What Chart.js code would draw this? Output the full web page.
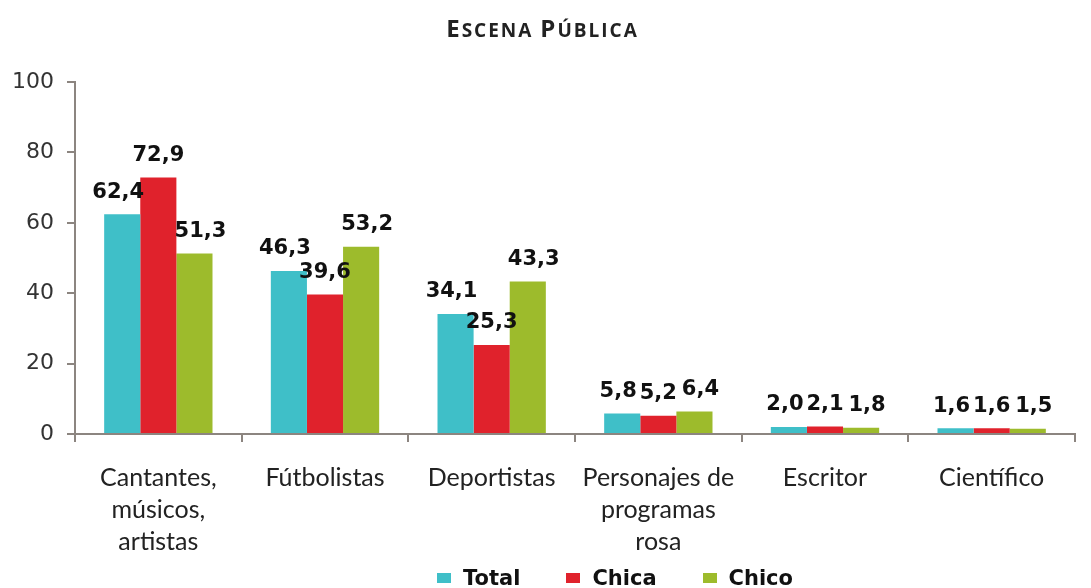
<!DOCTYPE html>
<html>
<head>
<meta charset="utf-8">
<script src="https://cdn.jsdelivr.net/npm/chart.js@4"></script>
<style>
  body { margin: 0; background: #fff; overflow: hidden; }
  #wrap { position: relative; width: 1091px; height: 588px; }
  #title {
    position: absolute; top: 11px; left: -3px; width: 1091px; text-align: center;
    font-family: "Open Sans", sans-serif; font-weight: 700; font-size: 19px;
    color: #222; letter-spacing: 2px;
  }
  #title .cap { font-size: 24px; }
  #legend {
    position: absolute; top: 565px; left: 437px; display: flex; line-height: 26px;
    font-family: "DejaVu Sans", sans-serif; font-weight: 700; font-size: 21px; color: #111;
  }
  #legend .item { display: flex; align-items: center; margin-right: 46px; }
  #legend .box { width: 14px; height: 10px; margin-right: 12px; display: inline-block; }
</style>
</head>
<body>
<div id="wrap">
  <canvas id="myChart" width="1091" height="588"></canvas>
  <div id="title"><span class="cap">E</span>SCENA <span class="cap">P</span>ÚBLICA</div>
  <div id="legend"></div>
</div>
<script>
// categories on the x axis
const categories = [
    ['Cantantes,', 'músicos,', 'artistas'],
    'Fútbolistas',
    'Deportistas',
    ['Personajes de', 'programas', 'rosa'],
    'Escritor',
    'Científico'
];
// series names and values (%)
const seriesNames = ['Total', 'Chica', 'Chico'];
const totalValues = [62.4, 46.3, 34.1, 5.8, 2.0, 1.6];
const chicaValues = [72.9, 39.6, 25.3, 5.2, 2.1, 1.6];
const chicoValues = [51.3, 53.2, 43.3, 6.4, 1.8, 1.5];
// y axis ticks
const yTicks = [0, 20, 40, 60, 80, 100];

const colors = ['#3fbfc8', '#e0222c', '#9dbb2c'];
const axisColor = '#8c8580';
// small nudge for value labels so they don't collide (total left, chico right)
const labelShift = [-4, 0, 6];

// value labels above each bar, with comma decimals like the original
const valueLabels = {
    id: 'valueLabels',
    afterDatasetsDraw(chart) {
        const ctx = chart.ctx;
        ctx.save();
        ctx.font = 'bold 21px "DejaVu Sans"';
        ctx.fillStyle = '#111';
        ctx.textAlign = 'center';
        ctx.textBaseline = 'middle';
        chart.data.datasets.forEach((ds, i) => {
            const meta = chart.getDatasetMeta(i);
            meta.data.forEach((bar, j) => {
                const txt = ds.data[j].toFixed(1).replace('.', ',');
                ctx.fillText(txt, bar.x + labelShift[i], bar.y - 22);
            });
        });
        ctx.restore();
    }
};

const ctx = document.getElementById('myChart').getContext('2d');
const chart = new Chart(ctx, {
    type: 'bar',
    data: {
        labels: categories,
        datasets: [
            { label: seriesNames[0], data: totalValues, backgroundColor: colors[0] },
            { label: seriesNames[1], data: chicaValues, backgroundColor: colors[1] },
            { label: seriesNames[2], data: chicoValues, backgroundColor: colors[2] }
        ]
    },
    options: {
        responsive: false,
        animation: false,
        layout: { padding: { top: 82, right: 16, left: 0, bottom: 0 } },
        datasets: { bar: { categoryPercentage: 0.65, barPercentage: 1 } },
        plugins: {
            legend: { display: false },
            tooltip: { enabled: false }
        },
        scales: {
            x: {
                grid: { drawOnChartArea: false, color: axisColor, lineWidth: 2, tickLength: 8 },
                border: { color: axisColor, width: 2 },
                ticks: {
                    color: '#222',
                    padding: 20,
                    maxRotation: 0,
                    font: { family: 'Lato', size: 25, lineHeight: 1.28 }
                },
                afterFit: s => { s.height = 154; }
            },
            y: {
                min: 0,
                max: 100,
                afterBuildTicks: s => { s.ticks = yTicks.map(v => ({ value: v })); },
                grid: { drawOnChartArea: false, color: axisColor, lineWidth: 2, tickLength: 8 },
                border: { color: axisColor, width: 2 },
                ticks: {
                    color: '#333',
                    padding: 13,
                    font: { family: 'DejaVu Sans', size: 22 }
                },
                afterFit: s => { s.width = 75; }
            }
        }
    },
    plugins: [valueLabels]
});

// html legend under the chart
const legendEl = document.getElementById('legend');
seriesNames.forEach((name, i) => {
    const item = document.createElement('span');
    item.className = 'item';
    item.innerHTML = `<span class="box" style="background:${colors[i]}"></span>${name}`;
    legendEl.appendChild(item);
});
</script>
</body>
</html>
